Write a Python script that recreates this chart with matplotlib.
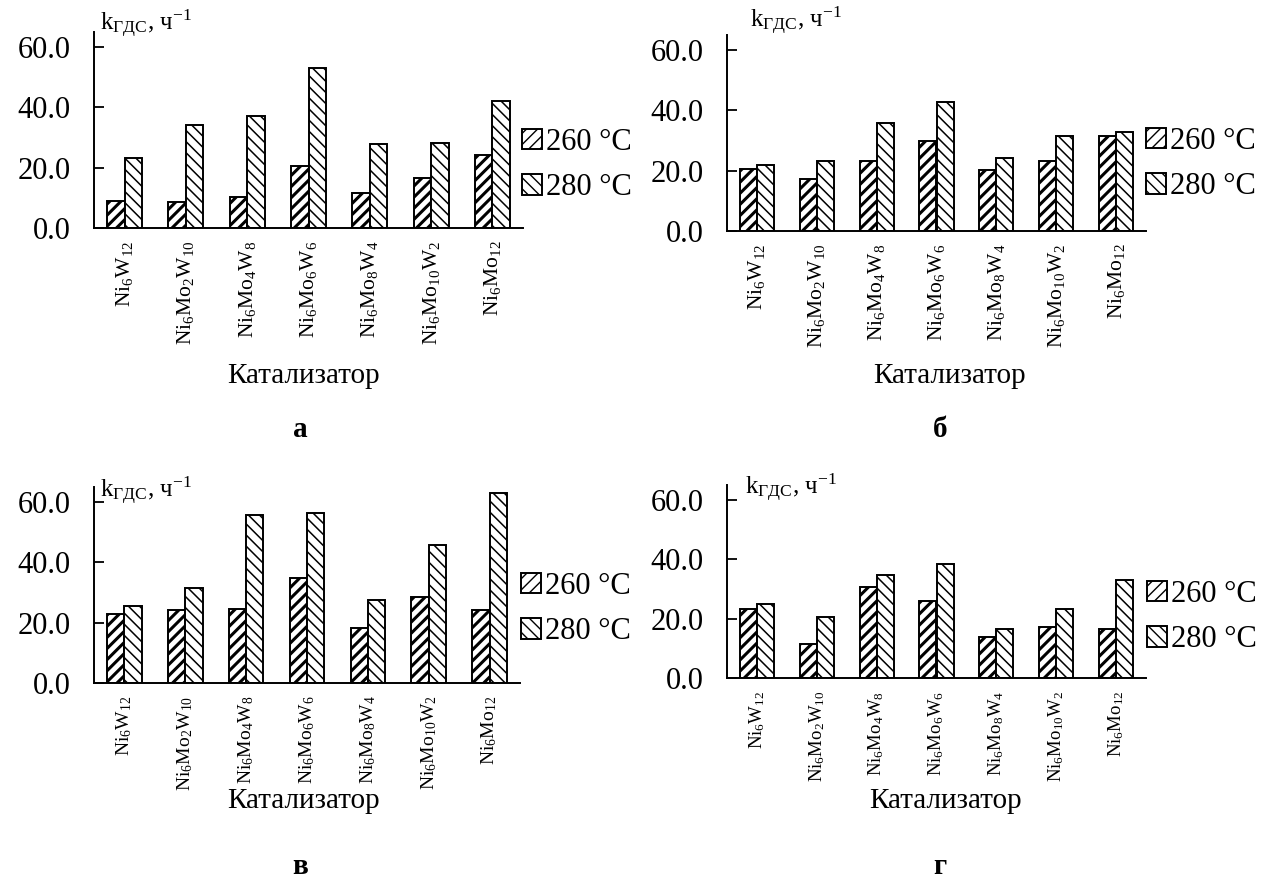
import matplotlib
matplotlib.use('Agg')
import matplotlib.pyplot as plt
import numpy as np

plt.rcParams['font.family'] = ['Liberation Serif', 'DejaVu Serif']
plt.rcParams['mathtext.fontset'] = 'custom'
plt.rcParams['mathtext.rm'] = 'Liberation Serif'
plt.rcParams['mathtext.it'] = 'Liberation Serif:italic'
plt.rcParams['mathtext.bf'] = 'Liberation Serif:bold'

# ---------------- data ----------------
catalysts = [r'$\mathrm{Ni_{6}W_{12}}$', r'$\mathrm{Ni_{6}Mo_{2}W_{10}}$',
             r'$\mathrm{Ni_{6}Mo_{4}W_{8}}$', r'$\mathrm{Ni_{6}Mo_{6}W_{6}}$',
             r'$\mathrm{Ni_{6}Mo_{8}W_{4}}$', r'$\mathrm{Ni_{6}Mo_{10}W_{2}}$',
             r'$\mathrm{Ni_{6}Mo_{12}}$']
series_labels = ['260 °C', '280 °C']
y_ticks = [0.0, 20.0, 40.0, 60.0]
panel_letters = ['а', 'б', 'в', 'г']

a_260 = [8.8, 8.5, 10.3, 20.6, 11.5, 16.7, 24.1]
a_280 = [23.3, 34.1, 37.3, 53.1, 28.0, 28.3, 42.0]
b_260 = [20.4, 17.3, 23.1, 30.0, 20.1, 23.1, 31.4]
b_280 = [22.0, 23.3, 35.9, 42.7, 24.2, 31.5, 32.9]
v_260 = [22.9, 24.2, 24.7, 34.8, 18.1, 28.4, 24.2]
v_280 = [25.7, 31.4, 55.8, 56.4, 27.4, 45.9, 63.0]
g_260 = [23.1, 11.5, 30.8, 25.8, 13.8, 17.1, 16.6]
g_280 = [25.0, 20.5, 34.6, 38.3, 16.5, 23.4, 33.0]

panels = [(a_260, a_280), (b_260, b_280), (v_260, v_280), (g_260, g_280)]

W, H = 1267, 890
fig = plt.figure(figsize=(W / 100, H / 100), dpi=100)

# axes rectangles in pixels: left, right, bottom(y px from top), top(y px from top)
rects_px = [(94, 523, 228, 32), (727, 1146, 231, 35),
            (94, 520, 683, 487), (727, 1146, 678, 485)]
legend_px = [(522, 165), (1146, 164), (521, 609), (1147, 617)]
ylabel_px = [(100, 24), (750, 21), (100, 491), (745, 488)]
xlabel_px = [(303, 376), (950, 376), (303, 801), (945, 801)]
letter_px = [(300, 430), (940, 430), (300, 866), (940, 866)]
xtick_fs = [15.5, 15.5, 14.0, 13.5]

bar_w = 0.285
x = np.arange(len(catalysts))

for i, (s260, s280) in enumerate(panels):
    l, r, b, t = rects_px[i]
    ax = fig.add_axes([l / W, (H - b) / H, (r - l) / W, (b - t) / H])
    bars1 = ax.bar(x - bar_w / 2, s260, bar_w, color='white', edgecolor='black',
                   linewidth=1.4, hatch='///', label=series_labels[0])
    bars2 = ax.bar(x + bar_w / 2, s280, bar_w, color='white', edgecolor='black',
                   linewidth=1.4, hatch='\\\\\\', label=series_labels[1])
    for p in bars1:
        try:
            p.set_hatch_linewidth(2.2)
        except Exception:
            pass
    for p in bars2:
        try:
            p.set_hatch_linewidth(1.1)
        except Exception:
            pass
    ax.set_xlim(-0.5, 6.5)
    ax.set_ylim(0, 65)
    ax.set_yticks(y_ticks)
    ax.set_yticklabels([f'{v:.1f}' for v in y_ticks], fontsize=22)
    ax.tick_params(axis='y', direction='in', length=7, width=1.3, pad=17)
    ax.set_xticks(x)
    ax.set_xticklabels(catalysts, rotation=90, fontsize=xtick_fs[i], va='top', ha='center')
    ax.tick_params(axis='x', length=0, pad=9)
    for s in ['top', 'right']:
        ax.spines[s].set_visible(False)
    for s in ['left', 'bottom']:
        ax.spines[s].set_linewidth(1.4)
    yx, yy = ylabel_px[i]
    fig.text(yx / W, (H - yy) / H, r'$\mathrm{k_{ГДС}}$, ч$^{\mathrm{-1}}$',
             fontsize=18, va='center', ha='left')
    lx, ly = legend_px[i]
    ax.legend(loc='center left', bbox_to_anchor=(lx / W, (H - ly) / H),
              bbox_transform=fig.transFigure, frameon=False, fontsize=22,
              handlelength=0.65, handleheight=0.65, handletextpad=0.15,
              labelspacing=0.55, borderaxespad=0, borderpad=0)
    xl, yl = xlabel_px[i]
    fig.text(xl / W, (H - yl) / H, 'Катализатор', fontsize=21, ha='center', va='center')
    px, py = letter_px[i]
    fig.text(px / W, (H - py) / H, panel_letters[i], fontsize=21, fontweight='bold',
             ha='center', va='center')

fig.savefig('out.png', dpi=100)
